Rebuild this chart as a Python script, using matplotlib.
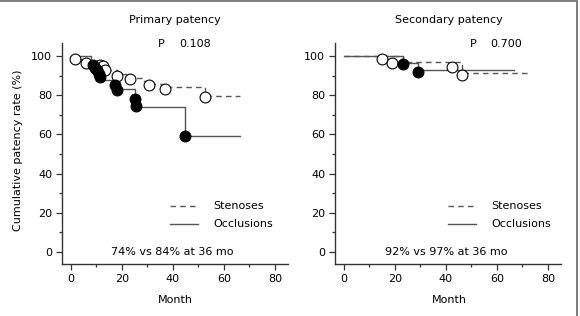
import matplotlib
matplotlib.use("Agg")
import matplotlib.pyplot as plt
from matplotlib.lines import Line2D
from matplotlib.patches import Rectangle
from matplotlib.ticker import MultipleLocator

# ---- data ----
# Primary patency
p_sten_t = [0, 2, 6, 12, 14, 18, 23, 28, 31, 36, 52.5, 66.3]
p_sten_s = [100, 98.5, 97, 95, 93, 91, 89, 87.5, 85.5, 84, 79.5, 79.5]
p_sten_cx = [1.5, 5.8, 11.5, 12.7, 13.3, 17.9, 23.1, 30.6, 36.9, 52.5]
p_sten_cy = [98.5, 96.6, 95.5, 94.9, 93, 89.8, 88.3, 85.2, 83.2, 79.2]

p_occ_t = [0, 8, 9.5, 11, 12, 17, 18, 25, 26, 44.7, 66.3]
p_occ_s = [100, 97, 94, 91, 88, 85, 83, 78, 74, 59, 59]
p_occ_cx = [8.8, 9.5, 10.1, 11.0, 11.4, 17.3, 17.9, 25.1, 25.7, 44.7]
p_occ_cy = [95.4, 94, 92.9, 91, 89.4, 85.2, 82.7, 78, 74.5, 59]

# Secondary patency
s_sten_t = [0, 23, 46.4, 71.6]
s_sten_s = [100, 97, 91.5, 91.5]
s_sten_cx = [14.8, 18.7, 42.2, 46.4]
s_sten_cy = [98.5, 96.6, 94.2, 90.3]

s_occ_t = [0, 23, 29, 66.8]
s_occ_s = [100, 96.3, 93, 93]
s_occ_cx = [23, 29]
s_occ_cy = [95.8, 91.7]

titles = ["Primary patency", "Secondary patency"]
pvals = ["0.108", "0.700"]
notes = ["74% vs 84% at 36 mo", "92% vs 97% at 36 mo"]
legend_labels = ["Stenoses", "Occlusions"]

W, H = 580, 316
fig = plt.figure(figsize=(W / 100, H / 100), dpi=100)
plt.rcParams['font.family'] = ['DejaVu Sans']

def fx(px):
    return px / W

def fy(py):
    return 1 - py / H

line_col = "#555555"
spine_col = "#333333"
fs = 8

panels = [
    (62, (p_sten_t, p_sten_s, p_sten_cx, p_sten_cy), (p_occ_t, p_occ_s, p_occ_cx, p_occ_cy)),
    (335, (s_sten_t, s_sten_s, s_sten_cx, s_sten_cy), (s_occ_t, s_occ_s, s_occ_cx, s_occ_cy)),
]

x0, x1 = -3.5, 85
y0, y1 = -6.1, 106.6
pxu = 2.55
pyu = 1.96

for i, (left_px, sten, occ) in enumerate(panels):
    wpx = (x1 - x0) * pxu
    hpx = (y1 - y0) * pyu
    bottom_px = 264
    ax = fig.add_axes([fx(left_px), fy(bottom_px), wpx / W, hpx / H])
    ax.set_xlim(x0, x1)
    ax.set_ylim(y0, y1)
    for s in ["top", "right"]:
        ax.spines[s].set_visible(False)
    for s in ["left", "bottom"]:
        ax.spines[s].set_color(spine_col)
        ax.spines[s].set_linewidth(1.0)
    ax.xaxis.set_major_locator(MultipleLocator(20))
    ax.xaxis.set_minor_locator(MultipleLocator(10))
    ax.yaxis.set_major_locator(MultipleLocator(20))
    ax.yaxis.set_minor_locator(MultipleLocator(10))
    ax.set_xticks([0, 20, 40, 60, 80])
    ax.set_yticks([0, 20, 40, 60, 80, 100])
    ax.tick_params(which="major", length=4, width=0.9, color=spine_col, labelsize=fs, pad=3)
    ax.tick_params(which="minor", length=2.5, width=0.9, color=spine_col)

    st, ss, scx, scy = sten
    ot, os_, ocx, ocy = occ
    ax.step(st, ss, where="post", color=line_col, lw=1.0, linestyle=(0, (4, 3)), zorder=2)
    ax.step(ot, os_, where="post", color=line_col, lw=1.0, linestyle="-", zorder=2)
    ax.plot(scx, scy, "o", ms=7.8, mfc="white", mec="black", mew=0.8, zorder=3)
    ax.plot(ocx, ocy, "o", ms=7.8, mfc="black", mec="black", mew=0.8, zorder=4)

# texts
centers = [172, 446]
for i, c in enumerate(centers):
    fig.text(fx(c + 3), fy(20), titles[i], ha="center", va="center", fontsize=fs)
    fig.text(fx(c + (-11 if i == 0 else 27)), fy(44), "P", ha="center", va="center", fontsize=fs)
    fig.text(fx(c + (23 if i == 0 else 60)), fy(44), pvals[i], ha="center", va="center", fontsize=fs)
    fig.text(fx(c), fy(252), notes[i], ha="center", va="center", fontsize=fs)
    fig.text(fx(c + 3), fy(300), "Month", ha="center", va="center", fontsize=fs)
    lx = 170 if i == 0 else 448
    fig.add_artist(Line2D([fx(lx), fx(lx + 28)], [fy(206), fy(206)], color=line_col, lw=1.0,
                          linestyle=(0, (4, 3)), transform=fig.transFigure))
    fig.add_artist(Line2D([fx(lx), fx(lx + 28)], [fy(224), fy(224)], color=line_col, lw=1.0,
                          transform=fig.transFigure))
    fig.text(fx(lx + 43), fy(206), legend_labels[0], ha="left", va="center", fontsize=fs)
    fig.text(fx(lx + 43), fy(224), legend_labels[1], ha="left", va="center", fontsize=fs)

fig.text(fx(18), fy(150), "Cumulative patency rate (%)", rotation=90, ha="center", va="center", fontsize=fs)

fig.add_artist(Rectangle((-0.01, -0.01), fx(577) + 0.01, 1.0 - 1 / H + 0.01, transform=fig.transFigure,
                         fill=False, edgecolor="#666666", lw=1.2))

fig.savefig("out.png", dpi=100)
